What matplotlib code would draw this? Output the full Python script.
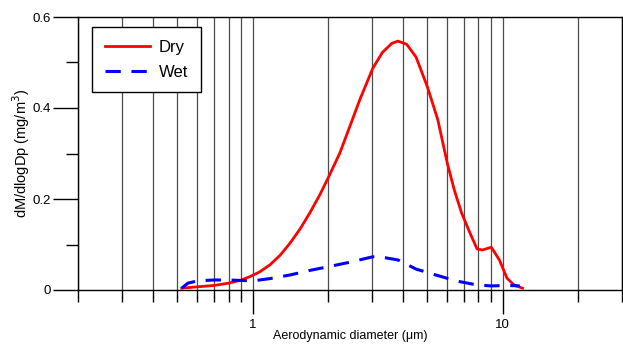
import numpy as np
import matplotlib
matplotlib.use('Agg')
import matplotlib.pyplot as plt
from matplotlib.ticker import MultipleLocator, LogLocator, FixedFormatter, FixedLocator

plt.rcParams['font.family'] = ['Liberation Sans', 'DejaVu Sans']

# size distribution
dryDiameter = [0.52, 0.60, 0.70, 0.80, 0.90, 0.97, 1.06, 1.17, 1.29, 1.41, 1.55, 1.69, 1.85, 2.01, 2.23,
               2.44, 2.68, 3.02, 3.3, 3.6, 3.81, 4.13, 4.5, 5.0, 5.5, 6.0, 6.4, 6.85, 7.4, 7.9, 8.3,
               9.0, 9.7, 10.4, 11.1, 12.0]
dryMass = [0.004, 0.007, 0.010, 0.015, 0.022, 0.029, 0.039, 0.055, 0.077, 0.103, 0.135, 0.169, 0.208, 0.248,
           0.301, 0.358, 0.418, 0.487, 0.522, 0.542, 0.547, 0.540, 0.512, 0.446, 0.374, 0.279, 0.220,
           0.169, 0.125, 0.090, 0.088, 0.094, 0.066, 0.026, 0.011, 0.004]
wetDiameter = [0.52, 0.55, 0.60, 0.70, 0.80, 0.90, 1.0, 1.17, 1.41, 1.69, 2.0, 2.44, 3.02,
               3.3, 3.81, 4.5, 5.4, 6.5, 7.9, 9.0, 10.5, 11.7]
wetMass = [0.004, 0.015, 0.020, 0.022, 0.022, 0.021, 0.020, 0.025, 0.033, 0.043, 0.051, 0.061, 0.073,
           0.072, 0.066, 0.046, 0.033, 0.020, 0.011, 0.009, 0.010, 0.009]


def main():
    fig = plt.figure(figsize=(6.23, 3.45), dpi=100)
    ax = fig.add_axes([78 / 623, 55 / 345, 544 / 623, 273 / 345])

    ax.plot(dryDiameter, dryMass, color='#ff0000', lw=2, label='Dry', zorder=3)
    ax.plot(wetDiameter, wetMass, color='#0000ff', lw=2.2, dashes=(5, 3.5), label='Wet', zorder=3)

    ax.set_xscale('log')
    ax.set_xlim(0.2, 30)
    ax.set_ylim(0, 0.6)

    ax.xaxis.set_major_locator(FixedLocator([1, 10]))
    ax.xaxis.set_major_formatter(FixedFormatter(['1', '10']))
    ax.xaxis.set_minor_locator(LogLocator(base=10, subs=np.arange(2, 10), numticks=20))
    ax.xaxis.set_minor_formatter(plt.NullFormatter())
    ax.yaxis.set_minor_locator(MultipleLocator(0.1))
    ax.set_yticks([0, 0.2, 0.4, 0.6])
    ax.set_yticklabels(['0', '0.2', '0.4', '0.6'])

    ax.grid(True, which='both', axis='x', color='0.3', lw=0.9, zorder=1)
    ax.tick_params(axis='x', which='major', length=17, width=1, labelsize=9.5, pad=4)
    ax.tick_params(axis='x', which='minor', length=8.5, width=1)
    ax.tick_params(axis='y', which='major', length=18, width=1, labelsize=9.5, pad=1.5)
    ax.tick_params(axis='y', which='minor', length=9, width=1)
    for s in ax.spines.values():
        s.set_linewidth(1)

    ax.set_xlabel('Aerodynamic diameter (μm)', fontsize=9, labelpad=-1)
    ax.set_ylabel('dM/dlogDp (mg/m$^3$)', fontsize=10.5, labelpad=0.5)

    leg = ax.legend(loc='upper left', bbox_to_anchor=(0.026, 0.963), fontsize=12,
                    handlelength=2.7, handletextpad=0.55, fancybox=False, framealpha=1,
                    edgecolor='black', borderaxespad=0, borderpad=0.75, labelspacing=0.6)
    leg.get_frame().set_linewidth(1)
    leg.set_zorder(5)

    fig.savefig('out.png', dpi=100)


if __name__ == "__main__":
    main()
